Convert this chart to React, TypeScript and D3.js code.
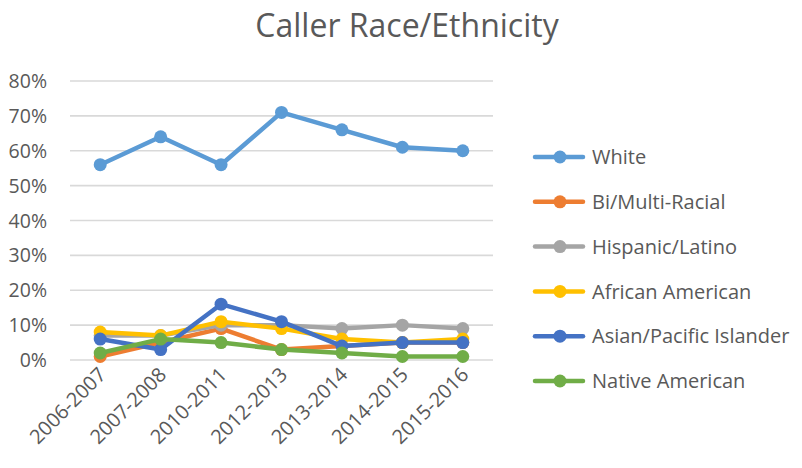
import React, { useEffect, useRef } from "react";
import * as d3 from "d3";

const years = ["2006-2007", "2007-2008", "2010-2011", "2012-2013", "2013-2014", "2014-2015", "2015-2016"];
const seriesNames = ["White", "Bi/Multi-Racial", "Hispanic/Latino", "African American", "Asian/Pacific Islander", "Native American"];
const white = [56, 64, 56, 71, 66, 61, 60];
const multiRacial = [1, 5, 9, 3, 4, 5, 5];
const hispanic = [7, 7, 10, 10, 9, 10, 9];
const african = [8, 7, 11, 9, 6, 5, 6];
const asian = [6, 3, 16, 11, 4, 5, 5];
const native = [2, 6, 5, 3, 2, 1, 1];
const colors = ["#5B9BD5", "#ED7D31", "#A5A5A5", "#FFC000", "#4472C4", "#70AD47"];
const yTicks = [0, 10, 20, 30, 40, 50, 60, 70, 80];

const App = () => {
  const ref = useRef<SVGSVGElement>(null);

  useEffect(() => {
    const svg = d3.select(ref.current);
    svg.selectAll("*").remove();
    const font = "'Open Sans', sans-serif";
    const textColor = "#595959";

    const allSeries = [white, multiRacial, hispanic, african, asian, native];

    const x = d3.scaleBand().domain(years).range([70, 493]);
    const y = d3.scaleLinear().domain([0, 80]).range([360, 81]);

    // title
    svg.append("text")
      .attr("x", 407)
      .attr("y", 37)
      .attr("text-anchor", "middle")
      .style("font-family", font)
      .style("font-size", "32px")
      .attr("fill", textColor)
      .text("Caller Race/Ethnicity");

    // gridlines
    svg.selectAll(".grid")
      .data(yTicks)
      .enter()
      .append("line")
      .attr("x1", 70)
      .attr("x2", 493)
      .attr("y1", d => y(d))
      .attr("y2", d => y(d))
      .attr("stroke", "#D9D9D9")
      .attr("stroke-width", 1.6);

    // y labels
    svg.selectAll(".ylab")
      .data(yTicks)
      .enter()
      .append("text")
      .attr("x", 47)
      .attr("y", d => y(d))
      .attr("dy", "0.36em")
      .attr("text-anchor", "end")
      .style("font-family", font)
      .style("font-size", "19.5px")
      .attr("fill", textColor)
      .text(d => d + "%");

    // x labels, rotated
    svg.selectAll(".xlab")
      .data(years)
      .enter()
      .append("text")
      .attr("text-anchor", "end")
      .attr("transform", d => `translate(${x(d)! + x.bandwidth() / 2 + 7},${376}) rotate(-45)`)
      .style("font-family", font)
      .style("font-size", "20px")
      .attr("fill", textColor)
      .text(d => d);

    const line = d3.line<number>()
      .x((_, i) => x(years[i])! + x.bandwidth() / 2)
      .y(d => y(d));

    allSeries.forEach((vals, s) => {
      const g = svg.append("g");
      g.append("path")
        .attr("d", line(vals))
        .attr("fill", "none")
        .attr("stroke", colors[s])
        .attr("stroke-width", 4.5)
        .attr("stroke-linejoin", "round")
        .attr("stroke-linecap", "round");
      g.selectAll("circle")
        .data(vals)
        .enter()
        .append("circle")
        .attr("cx", (_, i) => x(years[i])! + x.bandwidth() / 2)
        .attr("cy", d => y(d))
        .attr("r", 6.5)
        .attr("fill", colors[s]);
    });

    // legend
    const legend = svg.append("g");
    seriesNames.forEach((name, i) => {
      const ly = 157 + i * 44.8;
      legend.append("line")
        .attr("x1", 535)
        .attr("x2", 583)
        .attr("y1", ly)
        .attr("y2", ly)
        .attr("stroke", colors[i])
        .attr("stroke-width", 4.5)
        .attr("stroke-linecap", "round");
      legend.append("circle")
        .attr("cx", 560)
        .attr("cy", ly)
        .attr("r", 6.5)
        .attr("fill", colors[i]);
      legend.append("text")
        .attr("x", 592)
        .attr("y", ly)
        .attr("dy", "0.36em")
        .style("font-family", font)
        .style("font-size", "20px")
        .attr("fill", textColor)
        .text(name);
    });
  }, []);

  return <svg ref={ref} width="802" height="468" style={{ display: "block", margin: "-8px" }}></svg>;
};

export default App;
